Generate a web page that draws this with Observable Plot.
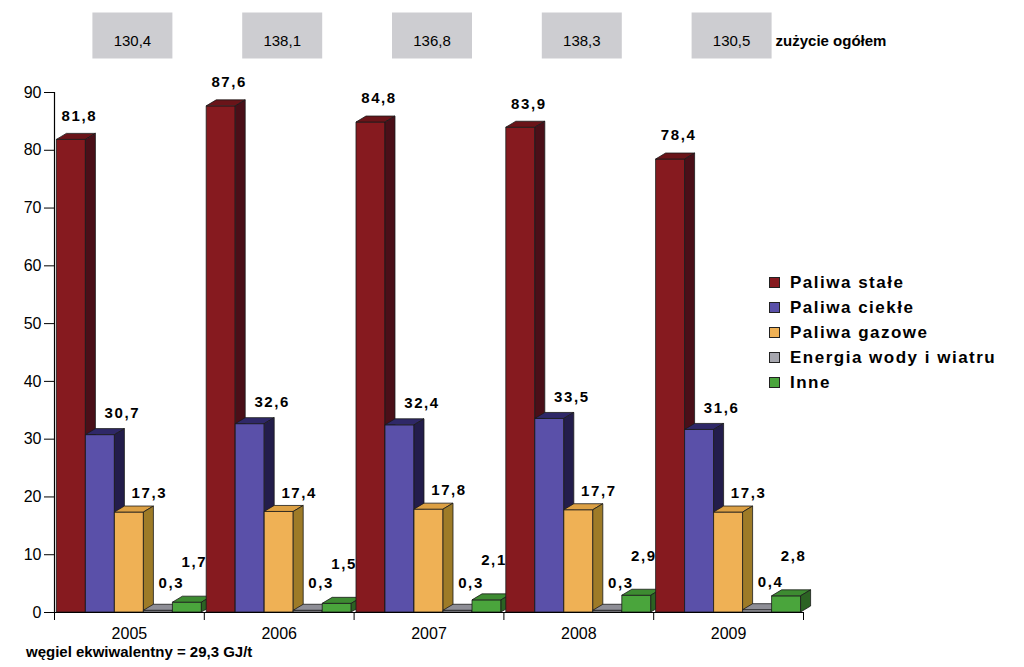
<!DOCTYPE html>
<html>
<head>
<meta charset="utf-8">
<script src="https://cdn.jsdelivr.net/npm/d3@7"></script>
<script src="https://cdn.jsdelivr.net/npm/@observablehq/plot@0.6"></script>
<style>
  body { margin: 0; background: #fff; font-family: "Liberation Sans", Arial, sans-serif; }
  #wrap { position: relative; width: 1024px; height: 667px; overflow: hidden; }
  #chart { position: absolute; left: 0; top: 0; }
  #legend { position: absolute; left: 769px; top: 270px; }
  #legend .row { height: 25px; display: flex; align-items: center; font: bold 17px "Liberation Sans", Arial, sans-serif; letter-spacing: 1.5px; color: #000; }
  #legend .sw { display: inline-block; width: 9px; height: 9px; border: 1px solid #222; margin-right: 10px; }
  #foot { position: absolute; left: 26px; top: 643px; font: bold 15px "Liberation Sans", Arial, sans-serif; color: #000; }
</style>
</head>
<body>
<div id="wrap">
  <div id="chart"></div>
  <div id="legend"></div>
  <div id="foot"></div>
</div>
<script>
// ---- data ----
const years = [2005, 2006, 2007, 2008, 2009];
const seriesNames = ["Paliwa stałe", "Paliwa ciekłe", "Paliwa gazowe", "Energia wody i wiatru", "Inne"];
const paliwaStale = [81.8, 87.6, 84.8, 83.9, 78.4];
const paliwaCiekle = [30.7, 32.6, 32.4, 33.5, 31.6];
const paliwaGazowe = [17.3, 17.4, 17.8, 17.7, 17.3];
const energiaWodyWiatru = [0.3, 0.3, 0.3, 0.3, 0.4];
const inne = [1.7, 1.5, 2.1, 2.9, 2.8];
const zuzycieOgolem = [130.4, 138.1, 136.8, 138.3, 130.5];
const yTicks = [0, 10, 20, 30, 40, 50, 60, 70, 80, 90];
const totalLabel = "zużycie ogółem";
const footnote = "węgiel ekwiwalentny = 29,3 GJ/t";

// ---- styles ----
const faceColors = [
  {front: "#861a1f", side: "#4a0f18", top: "#6a1419"},
  {front: "#5a50a9", side: "#231d4b", top: "#2f2868"},
  {front: "#efb155", side: "#9e7b27", top: "#dca044"},
  {front: "#a6a6ae", side: "#74747c", top: "#8e8e96"},
  {front: "#4aa53c", side: "#2c6323", top: "#3d8b31"}
];
const labelDx = [8, 22, 20, 13, 7];
const labelDy = [-24, -22, -19, -28, -40];
const barFrac = 0.1936;   // bar width as a fraction of one year group
const depthX = 10, depthY = 6;

const allSeries = [paliwaStale, paliwaCiekle, paliwaGazowe, energiaWodyWiatru, inne];
const rows = years.flatMap((year, j) =>
  allSeries.map((vals, i) => ({year, si: i, series: seriesNames[i], value: vals[j]})));
const totals = years.map((year, j) => ({year, value: zuzycieOgolem[j]}));
const comma = v => d3.format(".1f")(v).replace(".", ",");
const xDomain = [years[0] - 0.5, years[years.length - 1] + 0.5];
const boundaries = [...years.map(y => y - 0.5), years[years.length - 1] + 0.5];

const boxSymbol = {draw(ctx) { ctx.rect(-40, -23, 80, 46); }};

function bars3d(index, scales) {
  const sx = scales.x, sy = scales.y;
  const g = d3.create("svg:g").attr("aria-label", "bars-3d");
  for (const r of rows) {
    const xa = sx(r.year + (r.si - 2.5) * barFrac);
    const xb = sx(r.year + (r.si - 1.5) * barFrac);
    const yt = sy(r.value), yb = sy(0);
    const c = faceColors[r.si];
    const common = s => s.attr("stroke", "#1a1a1a").attr("stroke-width", 0.8).attr("stroke-linejoin", "round");
    common(g.append("rect").attr("x", xa).attr("y", yt).attr("width", xb - xa).attr("height", yb - yt).attr("fill", c.front));
    common(g.append("path").attr("fill", c.top)
      .attr("d", `M${xa},${yt}L${xa + depthX},${yt - depthY}L${xb + depthX},${yt - depthY}L${xb},${yt}Z`));
    common(g.append("path").attr("fill", c.side)
      .attr("d", `M${xb},${yt}L${xb + depthX},${yt - depthY}L${xb + depthX},${yb - depthY}L${xb},${yb}Z`));
  }
  return g.node();
}

const labelMarks = seriesNames.map((name, i) =>
  Plot.text(rows.filter(r => r.si === i), {
    x: r => r.year + (r.si - 2) * barFrac,
    y: "value",
    text: r => comma(r.value),
    dx: labelDx[i], dy: labelDy[i],
    fontSize: 15, fontWeight: "bold", fill: "#000"
  }));

const chart = Plot.plot({
  width: 1024,
  height: 667,
  marginLeft: 54,
  marginRight: 221,
  marginTop: 92,
  marginBottom: 55,
  style: {fontFamily: "'Liberation Sans', Arial, sans-serif", fontSize: "16px", color: "#000", background: "transparent"},
  x: {domain: xDomain},
  y: {domain: [0, 90]},
  marks: [
    Plot.axisY({ticks: yTicks, tickSize: 10, tickPadding: 3, fontSize: 16, label: null}),
    Plot.axisX({ticks: boundaries, tickSize: 8, tickFormat: () => "", label: null}),
    Plot.axisX({ticks: years, tickSize: 0, tickPadding: 15, tickFormat: d => String(d), fontSize: 16, label: null}),
    Plot.ruleX([xDomain[0]], {y1: 0, y2: 90, stroke: "#000", strokeWidth: 1.2}),
    bars3d,
    Plot.ruleY([0], {stroke: "#000", strokeWidth: 1.2}),
    ...labelMarks,
    Plot.dot(totals, {x: "year", frameAnchor: "top", dy: -57, dx: 3, r: 10, symbol: boxSymbol, fill: "#cdcdd1", stroke: "none"}),
    Plot.text(totals, {x: "year", frameAnchor: "top", dy: -57, dx: 3, text: d => comma(d.value), fontSize: 15, fill: "#000"}),
    Plot.text([totalLabel], {x: () => years[years.length - 1], frameAnchor: "top", dy: -57, dx: 47, text: d => d, textAnchor: "start", fontSize: 15, fontWeight: "bold", fill: "#000"})
  ]
});
// letter-spacing for the bar value labels (the first five text marks)
const textGroups = chart.querySelectorAll('g[aria-label="text"]');
for (let k = 0; k < seriesNames.length && k < textGroups.length; k++) {
  textGroups[k].querySelectorAll("text").forEach(t => t.style.letterSpacing = "1.6px");
}
document.getElementById("chart").appendChild(chart);

const legend = document.getElementById("legend");
seriesNames.forEach((name, i) => {
  const row = document.createElement("div");
  row.className = "row";
  const sw = document.createElement("span");
  sw.className = "sw";
  sw.style.background = faceColors[i].front;
  row.appendChild(sw);
  row.appendChild(document.createTextNode(name));
  legend.appendChild(row);
});
document.getElementById("foot").textContent = footnote;
</script>
</body>
</html>
